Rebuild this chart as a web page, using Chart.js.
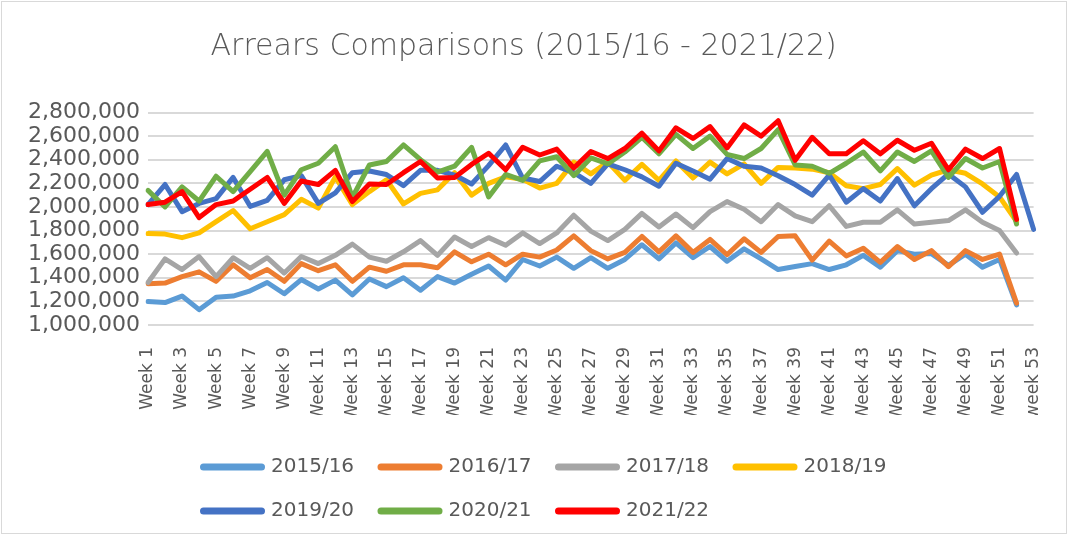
<!DOCTYPE html>
<html>
<head>
<meta charset="utf-8">
<script src="https://cdn.jsdelivr.net/npm/chart.js@4.4.1/dist/chart.umd.min.js"></script>
<style>
  html, body { margin: 0; padding: 0; background: #ffffff; }
  #wrap { width: 1068px; height: 535px; }
</style>
</head>
<body>
<div id="wrap"><canvas id="c" width="1068" height="535"></canvas></div>
<script>
const weeks = ['Week 1','Week 2','Week 3','Week 4','Week 5','Week 6','Week 7','Week 8','Week 9','Week 10',
  'Week 11','Week 12','Week 13','Week 14','Week 15','Week 16','Week 17','Week 18','Week 19','Week 20',
  'Week 21','Week 22','Week 23','Week 24','Week 25','Week 26','Week 27','Week 28','Week 29','Week 30',
  'Week 31','Week 32','Week 33','Week 34','Week 35','Week 36','Week 37','Week 38','Week 39','Week 40',
  'Week 41','Week 42','Week 43','Week 44','Week 45','Week 46','Week 47','Week 48','Week 49','Week 50',
  'Week 51','Week 52','week 53'];

const yTickValues = [1000000,1200000,1400000,1600000,1800000,2000000,2200000,2400000,2600000,2800000];

const seriesNames = ['2015/16','2016/17','2017/18','2018/19','2019/20','2020/21','2021/22'];
const seriesColors = ['#5B9BD5','#ED7D31','#A5A5A5','#FFC000','#4472C4','#70AD47','#FF0000'];

const s1516 = [1200000,1190000,1245000,1130000,1235000,1245000,1290000,1360000,1265000,1385000,
  1305000,1380000,1255000,1390000,1325000,1400000,1295000,1410000,1355000,1430000,
  1500000,1380000,1555000,1500000,1575000,1480000,1570000,1480000,1555000,1680000,
  1560000,1695000,1570000,1665000,1540000,1645000,1560000,1470000,1495000,1520000,
  1470000,1510000,1590000,1490000,1630000,1600000,1605000,1505000,1600000,1490000,
  1555000,1170000];
const s1617 = [1350000,1355000,1410000,1450000,1370000,1510000,1400000,1470000,1370000,1520000,
  1460000,1510000,1370000,1490000,1455000,1510000,1510000,1485000,1620000,1535000,
  1600000,1510000,1600000,1575000,1635000,1755000,1630000,1560000,1615000,1750000,
  1620000,1755000,1615000,1725000,1595000,1730000,1615000,1750000,1755000,1550000,
  1710000,1585000,1650000,1530000,1665000,1555000,1630000,1495000,1630000,1555000,
  1600000,1185000];
const s1718 = [1360000,1560000,1470000,1580000,1410000,1570000,1480000,1570000,1440000,1580000,
  1520000,1590000,1685000,1575000,1540000,1620000,1715000,1590000,1745000,1665000,
  1740000,1675000,1780000,1690000,1780000,1930000,1795000,1715000,1810000,1945000,
  1830000,1940000,1825000,1960000,2045000,1980000,1875000,2020000,1925000,1875000,
  2010000,1835000,1870000,1870000,1975000,1855000,1870000,1885000,1975000,1870000,
  1800000,1610000];
const s1819 = [1775000,1770000,1740000,1780000,1875000,1970000,1815000,1875000,1935000,2065000,
  1990000,2255000,2020000,2130000,2230000,2025000,2115000,2145000,2290000,2100000,
  2200000,2255000,2235000,2160000,2200000,2380000,2280000,2380000,2225000,2360000,
  2225000,2390000,2245000,2380000,2280000,2365000,2200000,2335000,2330000,2320000,
  2290000,2180000,2155000,2190000,2325000,2185000,2270000,2315000,2285000,2195000,
  2085000,1875000];
const s1920 = [2020000,2190000,1960000,2030000,2070000,2250000,2005000,2055000,2230000,2265000,
  2030000,2120000,2290000,2305000,2275000,2180000,2310000,2310000,2270000,2195000,
  2350000,2525000,2245000,2215000,2345000,2290000,2200000,2365000,2315000,2255000,
  2175000,2370000,2305000,2235000,2410000,2345000,2330000,2265000,2190000,2100000,
  2270000,2040000,2155000,2050000,2240000,2010000,2155000,2280000,2170000,1955000,
  2090000,2275000,1810000];
const s2021 = [2140000,2000000,2170000,2050000,2260000,2130000,2300000,2470000,2100000,2315000,
  2370000,2510000,2080000,2355000,2385000,2525000,2400000,2295000,2345000,2505000,
  2085000,2275000,2225000,2390000,2425000,2265000,2415000,2365000,2465000,2590000,
  2450000,2615000,2495000,2600000,2445000,2410000,2495000,2655000,2355000,2345000,
  2285000,2370000,2465000,2305000,2465000,2385000,2475000,2250000,2410000,2330000,
  2385000,1855000];
const s2122 = [2020000,2040000,2130000,1910000,2020000,2050000,2150000,2250000,2030000,2220000,
  2190000,2310000,2045000,2195000,2190000,2290000,2385000,2245000,2250000,2360000,
  2455000,2315000,2505000,2440000,2490000,2330000,2470000,2410000,2495000,2625000,
  2475000,2670000,2580000,2680000,2500000,2695000,2600000,2730000,2395000,2590000,
  2450000,2450000,2560000,2450000,2565000,2480000,2540000,2315000,2490000,2410000,
  2495000,1895000];

const seriesValues = [s1516, s1617, s1718, s1819, s1920, s2021, s2122];

const FONT = 'DejaVu Sans';
const TEXT = '#595959';

const datasets = seriesNames.map((name, i) => ({
  label: name,
  data: seriesValues[i],
  borderColor: seriesColors[i],
  backgroundColor: seriesColors[i],
  borderWidth: 5,
  pointRadius: 0,
  pointHoverRadius: 0,
  tension: 0,
  borderJoinStyle: 'round',
  borderCapStyle: 'round',
  fill: false,
  order: seriesNames.length - i
}));

const frameAndLegend = {
  id: 'frameAndLegend',
  beforeDraw(chart) {
    const ctx = chart.ctx;
    ctx.save();
    ctx.fillStyle = '#ffffff';
    ctx.fillRect(0, 0, chart.width, chart.height);
    ctx.strokeStyle = '#d9d9d9';
    ctx.lineWidth = 1;
    ctx.strokeRect(1.5, 1.5, chart.width - 3, chart.height - 3);
    ctx.restore();
  },
  afterDraw(chart, args, opts) {
    const ctx = chart.ctx;
    ctx.save();
    ctx.font = opts.fontSize + 'px "' + FONT + '"';
    ctx.textBaseline = 'middle';
    ctx.textAlign = 'left';
    chart.data.datasets.forEach((ds, i) => {
      const col = i % opts.columns;
      const row = Math.floor(i / opts.columns);
      const x = opts.left + col * opts.pitch;
      const y = opts.top + row * opts.rowGap;
      ctx.strokeStyle = ds.borderColor;
      ctx.lineWidth = opts.lineWidth;
      ctx.lineCap = 'round';
      ctx.beginPath();
      ctx.moveTo(x + opts.lineWidth / 2, y);
      ctx.lineTo(x + opts.swatch - opts.lineWidth / 2, y);
      ctx.stroke();
      ctx.fillStyle = TEXT;
      ctx.fillText(ds.label, x + opts.swatch + opts.gap, y);
    });
    ctx.restore();
  }
};

new Chart(document.getElementById('c'), {
  type: 'line',
  data: { labels: weeks, datasets: datasets },
  plugins: [frameAndLegend],
  options: {
    responsive: false,
    devicePixelRatio: 1,
    animation: false,
    layout: { padding: { left: 5, right: 25.6, top: 0, bottom: 120 } },
    plugins: {
      legend: { display: false },
      tooltip: { enabled: false },
      title: {
        display: true,
        text: 'Arrears Comparisons (2015/16 - 2021/22)',
        color: TEXT,
        font: { family: FONT, size: 30, weight: '300' },
        padding: { top: 29, bottom: 47.5 }
      },
      frameAndLegend: {
        left: 200, top: 467, pitch: 177.5, rowGap: 44, columns: 4,
        swatch: 65, gap: 6, lineWidth: 7, fontSize: 20
      }
    },
    scales: {
      x: {
        grid: { display: false },
        border: { display: false },
        ticks: {
          autoSkip: false,
          maxRotation: 90,
          minRotation: 90,
          padding: 14,
          color: TEXT,
          font: { family: FONT, size: 17 },
          callback: function (value, index) {
            return index % 2 === 0 ? this.getLabelForValue(value) : '';
          }
        },
        afterFit(scale) { scale.height = 90; }
      },
      y: {
        min: yTickValues[0],
        max: yTickValues[yTickValues.length - 1],
        afterBuildTicks(scale) { scale.ticks = yTickValues.map(v => ({ value: v })); },
        grid: { color: '#d9d9d9', lineWidth: 2, drawTicks: false },
        border: { display: false },
        ticks: {
          autoSkip: false,
          padding: 8,
          color: TEXT,
          font: { family: FONT, size: 22, lineHeight: 1 },
          callback: v => v.toLocaleString('en-US')
        },
        afterFit(scale) { scale.width = 143; }
      }
    }
  }
});
</script>
</body>
</html>
